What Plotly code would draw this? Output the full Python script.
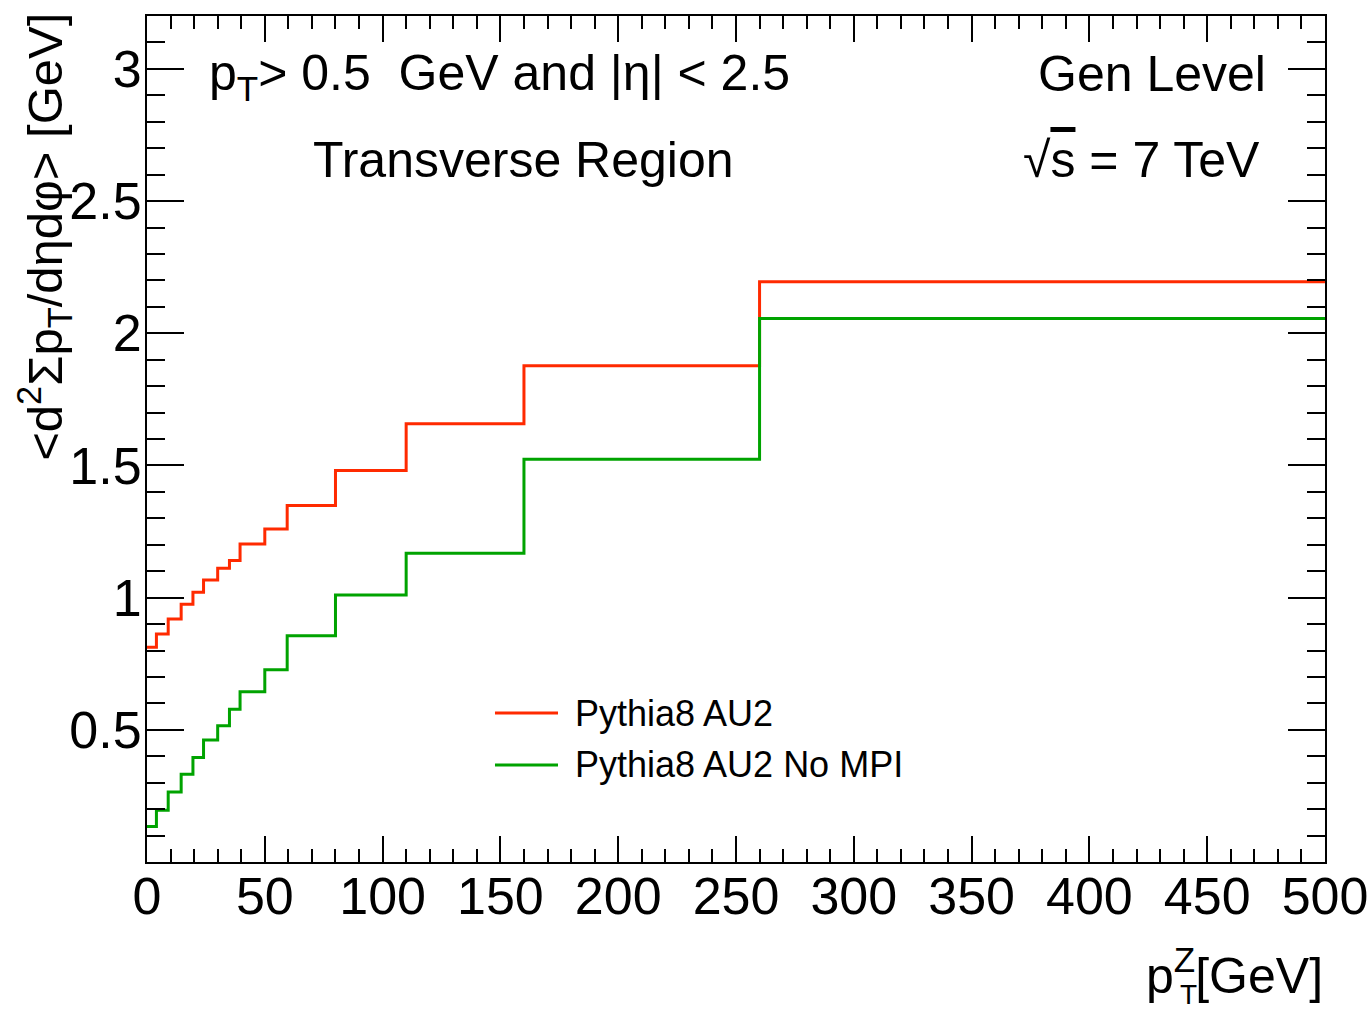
import plotly.graph_objects as go

# Bin edges in pT(Z) [GeV]
bin_edges = [0, 4, 9, 14.5, 19.5, 24, 30, 35, 39.5, 50, 59.5, 80, 110, 160, 260, 500]

# Mean transverse-region pT density per bin [GeV]
au2 = [0.812, 0.862, 0.919, 0.975, 1.020, 1.067, 1.111, 1.140, 1.203, 1.260,
       1.348, 1.481, 1.658, 1.877, 2.195]
au2_no_mpi = [0.134, 0.196, 0.265, 0.332, 0.395, 0.461, 0.515, 0.578, 0.644, 0.727,
              0.856, 1.010, 1.168, 1.523, 2.056]

series = [
    ("Pythia8 AU2", au2, "#ff2a00"),
    ("Pythia8 AU2 No MPI", au2_no_mpi, "#00a300"),
]

x_ticks = [0, 50, 100, 150, 200, 250, 300, 350, 400, 450, 500]
y_ticks = [0.5, 1, 1.5, 2, 2.5, 3]
y_tick_text = ["0.5", "1", "1.5", "2", "2.5", "3"]

FONT = "Liberation Sans, Arial, Helvetica, sans-serif"

fig = go.Figure()
for name, vals, color in series:
    fig.add_trace(go.Scatter(
        x=bin_edges, y=vals + [vals[-1]], mode="lines", line_shape="hv",
        line=dict(color=color, width=3), name=name, showlegend=False,
        hoverinfo="skip",
    ))

# ROOT-style frame: box, inside ticks on all four sides
axis_common = dict(
    showgrid=False, zeroline=False, showline=True, linecolor="black",
    linewidth=2, mirror="allticks", ticks="inside", tickcolor="black",
    tickwidth=2, tickfont=dict(family=FONT, size=52, color="black"),
    automargin=False,
)
fig.update_xaxes(
    range=[0, 500], tickmode="array", tickvals=x_ticks,
    ticklen=26, ticklabelstandoff=-12,
    minor=dict(tickmode="linear", tick0=0, dtick=10, ticks="inside",
               ticklen=13, tickwidth=2, tickcolor="black"),
    **axis_common,
)
fig.update_yaxes(
    range=[0, 3.2], tickmode="array", tickvals=y_ticks, ticktext=y_tick_text,
    ticklen=37, ticklabelstandoff=-7,
    minor=dict(tickmode="linear", tick0=0, dtick=0.1, ticks="inside",
               ticklen=18, tickwidth=2, tickcolor="black"),
    **axis_common,
)

ann = []
def text(s, x, y, xanchor, size, yanchor="middle", angle=0):
    ann.append(dict(text=s, x=x, y=y, xref="paper", yref="paper",
                    xanchor=xanchor, yanchor=yanchor, showarrow=False,
                    textangle=angle,
                    font=dict(family=FONT, size=size, color="black")))

text("p<sub>T</sub>> 0.5  GeV and |η| < 2.5", 0.0509, 0.928, "left", 50)
text("Gen Level", 0.9516, 0.932, "right", 50)
text("Transverse Region", 0.1392, 0.8298, "left", 50)
text("√<span style='text-decoration:overline'>s</span> = 7 TeV", 0.9465, 0.8298, "right", 50)
text("&lt;d<sup>2</sup>Σp<sub>T</sub>/dηdφ&gt; [GeV]", -0.0866, 0.739, "center", 49, angle=-90)

# x-axis title: p with stacked Z superscript and T subscript
text("p<sup>Z</sup>[GeV]", 1.0, -0.1300, "right", 50)
text("T", 0.8755, -0.1570, "left", 28)

# Legend drawn as line samples plus labels
legend_y = [0.1761, 0.1147]
for (name, _, color), ly in zip(series, legend_y):
    fig.add_shape(type="line", xref="paper", yref="paper",
                  x0=0.2954, x1=0.3489, y0=ly, y1=ly,
                  line=dict(color=color, width=3))
    text(name, 0.3616, ly, "left", 36)

fig.update_layout(
    width=1370, height=1013,
    margin=dict(l=147, r=45, t=16, b=151, autoexpand=False),
    paper_bgcolor="white", plot_bgcolor="white",
    annotations=ann, showlegend=False,
)

fig.write_html("out.html")
